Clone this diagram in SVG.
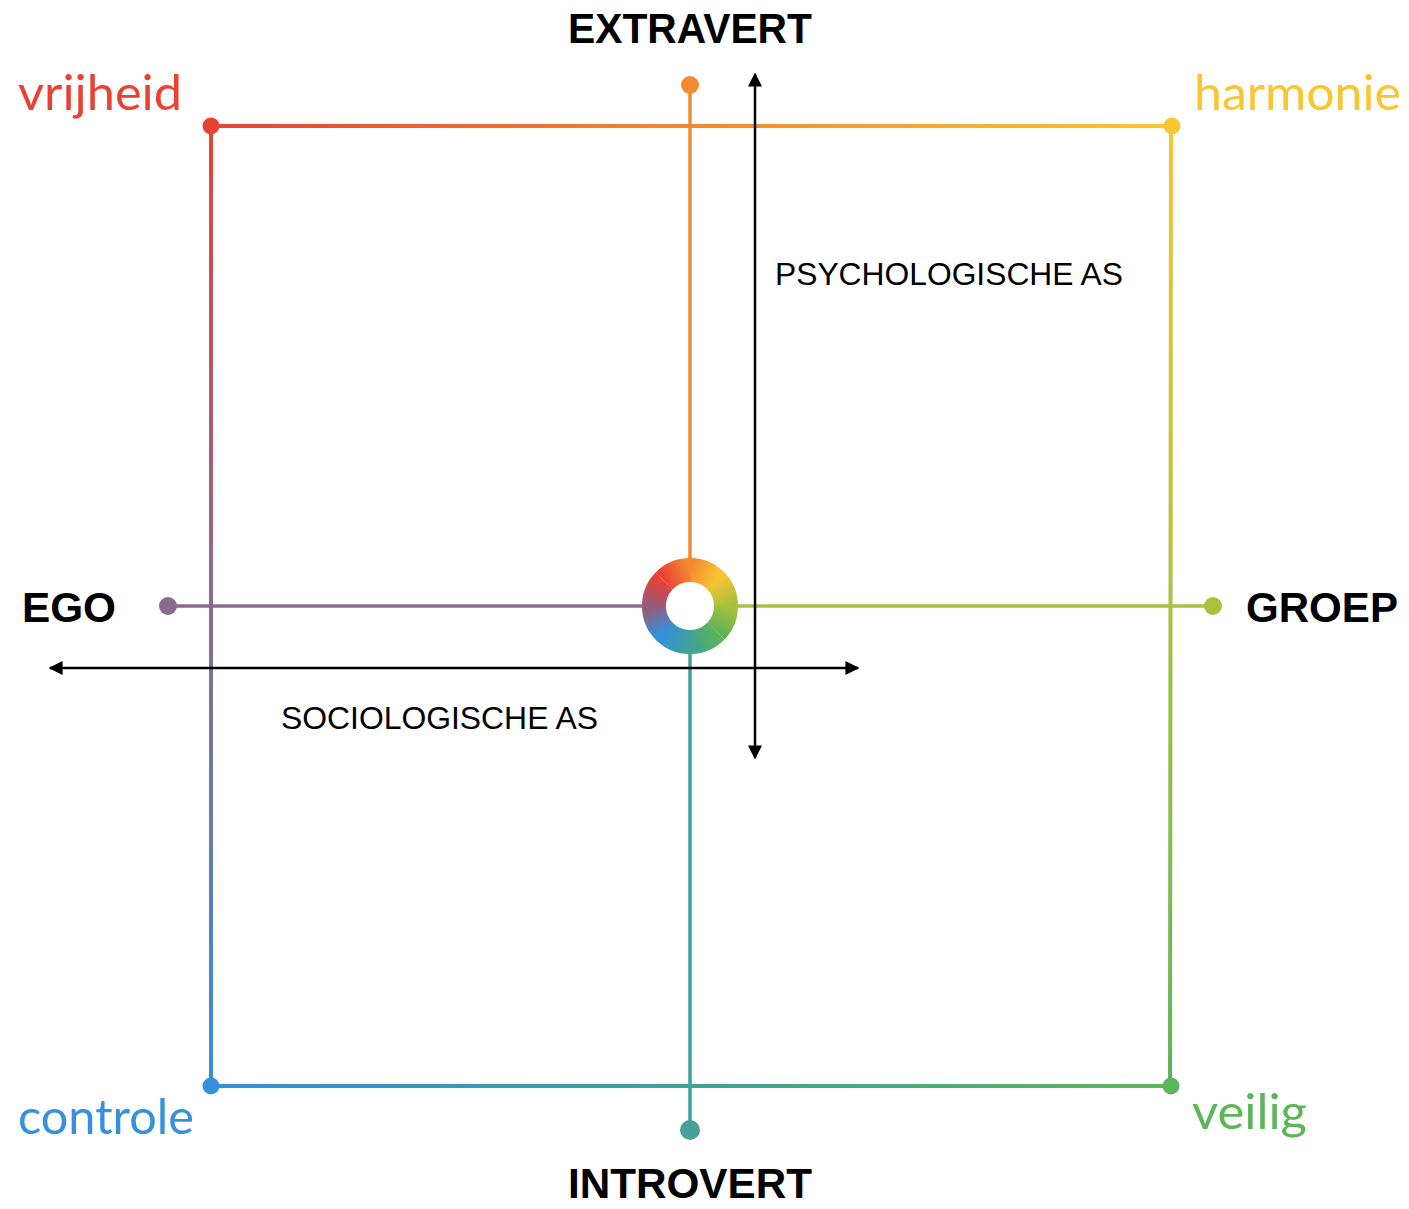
<svg xmlns="http://www.w3.org/2000/svg" width="1409" height="1209" viewBox="0 0 1409 1209">
<style>
.edge{fill:none;stroke-width:4;stroke-linecap:round}
.spoke{fill:none;stroke-width:3.5}
.ax{fill:none;stroke:#000;stroke-width:2.5}
.big{font-family:"Liberation Sans",Arial,sans-serif;font-weight:bold;font-size:42px;fill:#000}
.val{font-family:Lato,"Open Sans",sans-serif;font-weight:400;font-size:48px}
.axl{font-family:"Liberation Sans",Arial,sans-serif;font-size:31px;fill:#000}
.seg{fill:none;stroke-width:24}
</style>
<defs>
<linearGradient id="gTop" gradientUnits="userSpaceOnUse" x1="211" y1="126" x2="1172" y2="126"><stop offset="0" stop-color="#E84235"/><stop offset="0.5" stop-color="#F28A30"/><stop offset="1" stop-color="#F8C630"/></linearGradient>
<linearGradient id="gLeft" gradientUnits="userSpaceOnUse" x1="211" y1="126" x2="211" y2="1086"><stop offset="0" stop-color="#E84235"/><stop offset="0.5" stop-color="#8B6A8F"/><stop offset="1" stop-color="#3690DB"/></linearGradient>
<linearGradient id="gRight" gradientUnits="userSpaceOnUse" x1="1171" y1="126" x2="1171" y2="1086"><stop offset="0" stop-color="#F8C630"/><stop offset="0.5" stop-color="#A9C13F"/><stop offset="1" stop-color="#5CB557"/></linearGradient>
<linearGradient id="gBot" gradientUnits="userSpaceOnUse" x1="211" y1="1086" x2="1170" y2="1086"><stop offset="0" stop-color="#3690DB"/><stop offset="0.5" stop-color="#3FA197"/><stop offset="1" stop-color="#5CB557"/></linearGradient>
<linearGradient id="r1" gradientUnits="userSpaceOnUse" x1="690" y1="570" x2="715.5" y2="580.5"><stop offset="0" stop-color="#F28A30"/><stop offset="1" stop-color="#F8C531"/></linearGradient>
<linearGradient id="r2" gradientUnits="userSpaceOnUse" x1="715.5" y1="580.5" x2="726" y2="606"><stop offset="0" stop-color="#F8C531"/><stop offset="1" stop-color="#A8BF3E"/></linearGradient>
<linearGradient id="r3" gradientUnits="userSpaceOnUse" x1="726" y1="606" x2="715.5" y2="631.5"><stop offset="0" stop-color="#A8BF3E"/><stop offset="1" stop-color="#5DB456"/></linearGradient>
<linearGradient id="r4" gradientUnits="userSpaceOnUse" x1="715.5" y1="631.5" x2="690" y2="642"><stop offset="0" stop-color="#5DB456"/><stop offset="1" stop-color="#3FA197"/></linearGradient>
<linearGradient id="r5" gradientUnits="userSpaceOnUse" x1="690" y1="642" x2="664.5" y2="631.5"><stop offset="0" stop-color="#3FA197"/><stop offset="1" stop-color="#3690DB"/></linearGradient>
<linearGradient id="r6" gradientUnits="userSpaceOnUse" x1="664.5" y1="631.5" x2="654" y2="606"><stop offset="0" stop-color="#3690DB"/><stop offset="1" stop-color="#9A5A78"/></linearGradient>
<linearGradient id="r7" gradientUnits="userSpaceOnUse" x1="654" y1="606" x2="664.5" y2="580.5"><stop offset="0" stop-color="#9A5A78"/><stop offset="1" stop-color="#E84235"/></linearGradient>
<linearGradient id="r8" gradientUnits="userSpaceOnUse" x1="664.5" y1="580.5" x2="690" y2="570"><stop offset="0" stop-color="#E84235"/><stop offset="1" stop-color="#F28A30"/></linearGradient>
<marker id="ah" viewBox="0 0 10 10" refX="9" refY="5" markerWidth="5.6" markerHeight="5.6" orient="auto-start-reverse" markerUnits="strokeWidth"><path d="M0,0 L10,5 L0,10 Z" fill="#000"/></marker>
</defs>
<g id="connectors">
<path class="edge" stroke="url(#gTop)" d="M211,126 L1172,126"/>
<path class="edge" stroke="url(#gLeft)" d="M211,126 L211,1086"/>
<path class="edge" stroke="url(#gRight)" d="M1171,126 L1170,1086"/>
<path class="edge" stroke="url(#gBot)" d="M211,1086 L1170,1086"/>
<path class="spoke" stroke="#F28A30" d="M690,85 L690,562"/>
<path class="spoke" stroke="#3FA197" d="M690,650 L690,1130"/>
<path class="spoke" stroke="#8B6A8F" d="M168,606 L646,606"/>
<path class="spoke" stroke="#A9C13F" d="M734,606 L1213,606"/>
<path class="ax" d="M50,668 L858,668" marker-start="url(#ah)" marker-end="url(#ah)"/>
<path class="ax" d="M755,74 L755,758" marker-start="url(#ah)" marker-end="url(#ah)"/>
</g>
<g id="dots">
<circle cx="211" cy="126" r="8.5" fill="#E84235"/>
<circle cx="1172" cy="126" r="8.5" fill="#F8C630"/>
<circle cx="211" cy="1086" r="8.5" fill="#3690DB"/>
<circle cx="1171" cy="1086" r="8.5" fill="#5CB557"/>
<circle cx="690" cy="85" r="9" fill="#F28A30"/>
<circle cx="690" cy="1130" r="10" fill="#47A198"/>
<circle cx="168" cy="606" r="9" fill="#8B6A8F"/>
<circle cx="1213" cy="606" r="9" fill="#A9C13F"/>
</g>
<g id="ring">
<path class="seg" stroke="url(#r1)" d="M689.4,570 A36,36 0 0 1 715.9,580.9"/>
<path class="seg" stroke="url(#r2)" d="M715.1,580.1 A36,36 0 0 1 726,606.6"/>
<path class="seg" stroke="url(#r3)" d="M726,605.4 A36,36 0 0 1 715.9,631.1"/>
<path class="seg" stroke="url(#r4)" d="M715.9,631.1 A36,36 0 0 1 689.4,642"/>
<path class="seg" stroke="url(#r5)" d="M690.6,642 A36,36 0 0 1 664.1,631.1"/>
<path class="seg" stroke="url(#r6)" d="M664.9,631.9 A36,36 0 0 1 654,605.4"/>
<path class="seg" stroke="url(#r7)" d="M654,606.6 A36,36 0 0 1 664.1,580.9"/>
<path class="seg" stroke="url(#r8)" d="M664.1,580.9 A36,36 0 0 1 690.6,570"/>
</g>
<g id="n-extravert"><text class="big" x="568" y="43" textLength="244" lengthAdjust="spacingAndGlyphs">EXTRAVERT</text></g>
<g id="n-introvert"><text class="big" x="568" y="1198" textLength="244" lengthAdjust="spacingAndGlyphs">INTROVERT</text></g>
<g id="n-ego"><text class="big" x="22" y="622" textLength="94" lengthAdjust="spacingAndGlyphs">EGO</text></g>
<g id="n-groep"><text class="big" x="1246" y="622" textLength="152" lengthAdjust="spacingAndGlyphs">GROEP</text></g>
<g id="n-vrijheid"><text class="val" x="18" y="110" fill="#E84235" textLength="164" lengthAdjust="spacingAndGlyphs">vrijheid</text></g>
<g id="n-harmonie"><text class="val" x="1194" y="110" fill="#F8C630" textLength="207" lengthAdjust="spacingAndGlyphs">harmonie</text></g>
<g id="n-controle"><text class="val" x="18" y="1134" fill="#3690DB" textLength="176" lengthAdjust="spacingAndGlyphs">controle</text></g>
<g id="n-veilig"><text class="val" x="1192" y="1129" fill="#5CB557" textLength="115" lengthAdjust="spacingAndGlyphs">veilig</text></g>
<g id="n-psych"><text class="axl" x="775" y="285" textLength="348" lengthAdjust="spacingAndGlyphs">PSYCHOLOGISCHE AS</text></g>
<g id="n-socio"><text class="axl" x="281" y="729" textLength="317" lengthAdjust="spacingAndGlyphs">SOCIOLOGISCHE AS</text></g>
</svg>
